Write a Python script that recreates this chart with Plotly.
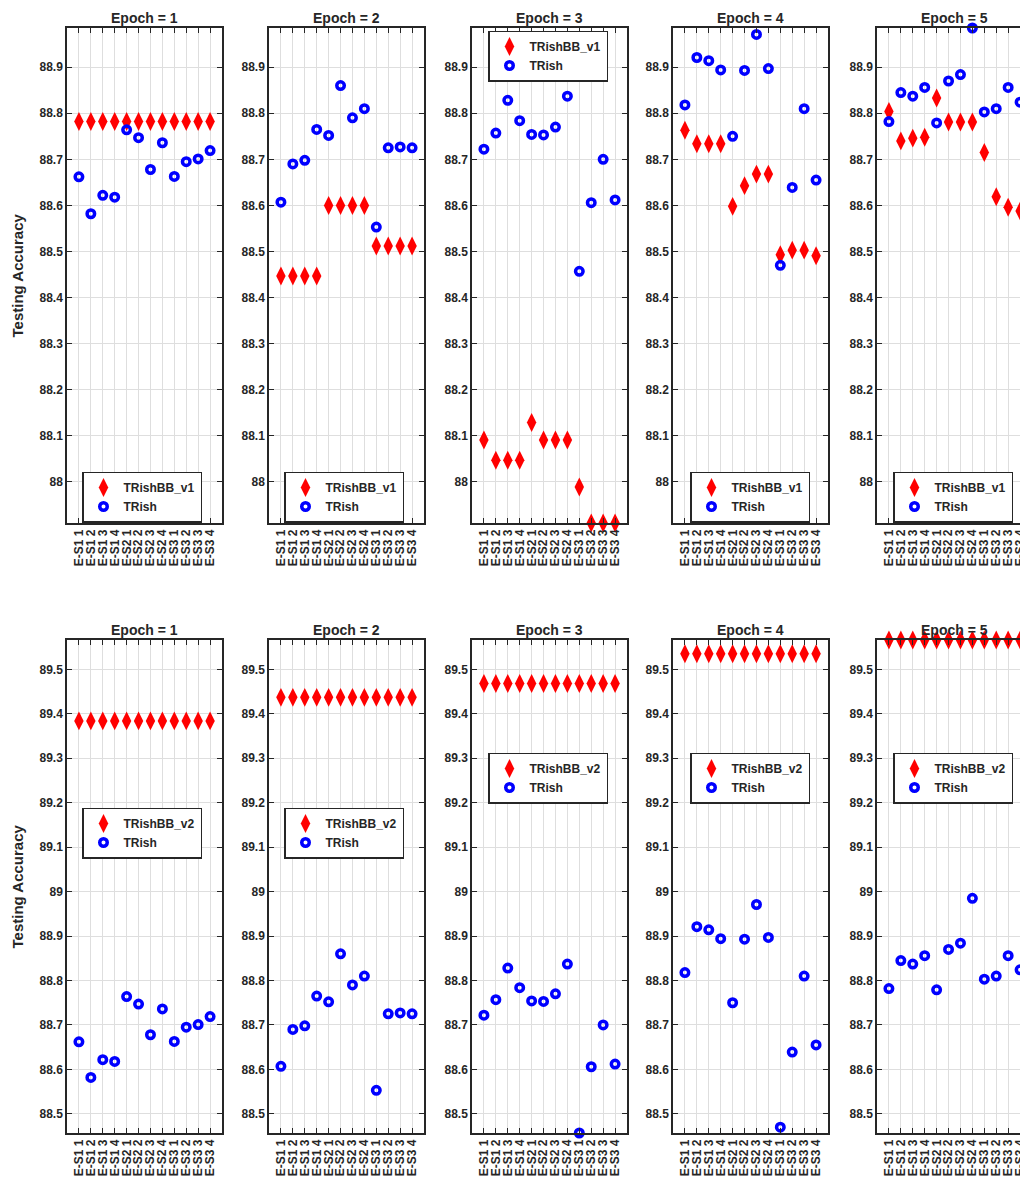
import plotly.graph_objects as go

categories = ["E-S1 1", "E-S1 2", "E-S1 3", "E-S1 4",
              "E-S2 1", "E-S2 2", "E-S2 3", "E-S2 4",
              "E-S3 1", "E-S3 2", "E-S3 3", "E-S3 4"]
epoch_titles = ["Epoch = 1", "Epoch = 2", "Epoch = 3", "Epoch = 4", "Epoch = 5"]

trish_e1 = [88.662, 88.582, 88.622, 88.618, 88.764, 88.747, 88.678, 88.736, 88.663, 88.695, 88.701, 88.719]
trish_e2 = [88.607, 88.690, 88.698, 88.765, 88.752, 88.860, 88.790, 88.810, 88.553, 88.725, 88.727, 88.725]
trish_e3 = [88.722, 88.757, 88.828, 88.784, 88.754, 88.753, 88.770, 88.837, 88.457, 88.606, 88.700, 88.612]
trish_e4 = [88.818, 88.921, 88.914, 88.894, 88.750, 88.893, 88.971, 88.897, 88.470, 88.639, 88.810, 88.655]
trish_e5 = [88.782, 88.845, 88.837, 88.856, 88.779, 88.870, 88.884, 88.985, 88.803, 88.810, 88.856, 88.824]

bbv1_e1 = [88.782, 88.782, 88.782, 88.782, 88.782, 88.782, 88.782, 88.782, 88.782, 88.782, 88.782, 88.782]
bbv1_e2 = [88.447, 88.447, 88.447, 88.447, 88.600, 88.600, 88.600, 88.600, 88.512, 88.512, 88.512, 88.512]
bbv1_e3 = [88.091, 88.047, 88.047, 88.047, 88.129, 88.091, 88.091, 88.091, 87.989, 87.911, 87.911, 87.911]
bbv1_e4 = [88.763, 88.734, 88.734, 88.734, 88.598, 88.643, 88.668, 88.668, 88.493, 88.503, 88.503, 88.491]
bbv1_e5 = [88.804, 88.740, 88.746, 88.748, 88.833, 88.781, 88.781, 88.781, 88.715, 88.619, 88.596, 88.588]

bbv2_e1 = [89.384, 89.384, 89.384, 89.384, 89.384, 89.384, 89.384, 89.384, 89.384, 89.384, 89.384, 89.384]
bbv2_e2 = [89.437, 89.437, 89.437, 89.437, 89.437, 89.437, 89.437, 89.437, 89.437, 89.437, 89.437, 89.437]
bbv2_e3 = [89.468, 89.468, 89.468, 89.468, 89.468, 89.468, 89.468, 89.468, 89.468, 89.468, 89.468, 89.468]
bbv2_e4 = [89.535, 89.535, 89.535, 89.535, 89.535, 89.535, 89.535, 89.535, 89.535, 89.535, 89.535, 89.535]
bbv2_e5 = [89.566, 89.566, 89.566, 89.566, 89.566, 89.566, 89.566, 89.566, 89.566, 89.566, 89.566, 89.566]

ytick_top = [88.0, 88.1, 88.2, 88.3, 88.4, 88.5, 88.6, 88.7, 88.8, 88.9]
ytext_top = ["88", "88.1", "88.2", "88.3", "88.4", "88.5", "88.6", "88.7", "88.8", "88.9"]
ytick_bot = [88.5, 88.6, 88.7, 88.8, 88.9, 89.0, 89.1, 89.2, 89.3, 89.4, 89.5]
ytext_bot = ["88.5", "88.6", "88.7", "88.8", "88.9", "89", "89.1", "89.2", "89.3", "89.4", "89.5"]
yrange_top = [87.911, 88.985]
yrange_bot = [88.457, 89.566]

trish = [trish_e1, trish_e2, trish_e3, trish_e4, trish_e5]
bbv1 = [bbv1_e1, bbv1_e2, bbv1_e3, bbv1_e4, bbv1_e5]
bbv2 = [bbv2_e1, bbv2_e2, bbv2_e3, bbv2_e4, bbv2_e5]

W, H = 1028, 1186
OFF = 8  # page body margin offset
col_left = [67 - OFF, 269 - OFF, 472 - OFF, 673 - OFF, 877 - OFF]
col_w = 155
rows = [(28 - OFF, 523 - OFF), (640 - OFF, 1133 - OFF)]
# legend: left x and vertical centre (reference pixels)
leg_pos = [[(82, 497), (284, 497), (488, 56), (690, 497), (893, 497)],
           [(82, 833), (284, 833), (488, 778), (690, 778), (893, 778)]]

FONT = "Liberation Sans, Arial, sans-serif"
DARK = "#262626"

fig = go.Figure()
layout = dict(width=W, height=H, margin=dict(l=0, r=0, t=0, b=0),
              paper_bgcolor="white", plot_bgcolor="white",
              font=dict(family=FONT, color=DARK), annotations=[])

for r in range(2):
    top, bot = rows[r]
    series_red = bbv1 if r == 0 else bbv2
    red_name = "TRishBB_v1" if r == 0 else "TRishBB_v2"
    for c in range(5):
        k = r * 5 + c + 1
        sfx = "" if k == 1 else str(k)
        left = col_left[c]
        right = min(left + col_w, W)
        legname = "legend" if k == 1 else "legend%d" % k
        fig.add_trace(go.Scatter(
            x=list(range(12)), y=series_red[c], mode="markers", name=red_name,
            xaxis="x" + sfx, yaxis="y" + sfx, legend=legname, cliponaxis=False,
            marker=dict(symbol="diamond-tall", size=13.5, color="#ff0000",
                        line=dict(width=0))))
        fig.add_trace(go.Scatter(
            x=list(range(12)), y=trish[c], mode="markers", name="TRish",
            xaxis="x" + sfx, yaxis="y" + sfx, legend=legname, cliponaxis=False,
            marker=dict(symbol="circle-open", size=7.5, color="#0000ff",
                        line=dict(width=3.5, color="#0000ff"))))
        layout["xaxis" + sfx] = dict(
            domain=[left / W, right / W], anchor="y" + sfx, range=[-1, 12],
            tickmode="array", tickvals=list(range(12)), ticktext=categories,
            tickangle=-90, tickfont=dict(size=12, family=FONT, color=DARK, weight="bold"),
            showgrid=True, gridcolor="#dedede", gridwidth=1, zeroline=False,
            showline=True, linecolor=DARK, linewidth=1.5, mirror="ticks",
            ticks="inside", ticklen=5, tickwidth=1.2, tickcolor=DARK)
        layout["yaxis" + sfx] = dict(
            domain=[1 - bot / H, 1 - top / H], anchor="x" + sfx,
            range=yrange_top if r == 0 else yrange_bot,
            tickmode="array", tickvals=ytick_top if r == 0 else ytick_bot,
            ticktext=ytext_top if r == 0 else ytext_bot,
            tickfont=dict(size=12, family=FONT, color=DARK, weight="bold"),
            showgrid=True, gridcolor="#dedede", gridwidth=1, zeroline=False,
            showline=True, linecolor=DARK, linewidth=1.5, mirror="ticks",
            ticks="inside", ticklen=5, tickwidth=1.2, tickcolor=DARK)
        lx, ly = leg_pos[r][c]
        layout[legname] = dict(
            x=(lx - OFF) / W, y=1 - (ly - OFF) / H, xanchor="left", yanchor="middle",
            bgcolor="white", bordercolor=DARK, borderwidth=1.5,
            font=dict(size=12, family=FONT, color=DARK, weight="bold"),
            tracegroupgap=0, itemwidth=30)
        layout["annotations"].append(dict(
            text="<b>" + epoch_titles[c] + "</b>", xref="paper", yref="paper",
            x=(left + col_w / 2) / W, y=1 - (top - 1) / H, xanchor="center", yanchor="bottom",
            borderpad=0, showarrow=False, font=dict(size=14, family=FONT, color=DARK)))
    layout["annotations"].append(dict(
        text="<b>Testing Accuracy</b>", xref="paper", yref="paper",
        x=(17 - OFF) / W, y=1 - ((top + bot) / 2) / H, xanchor="center", yanchor="middle",
        textangle=-90, borderpad=0, showarrow=False, font=dict(size=15, family=FONT, color=DARK)))

fig.update_layout(**layout)
fig.write_html("out.html")
